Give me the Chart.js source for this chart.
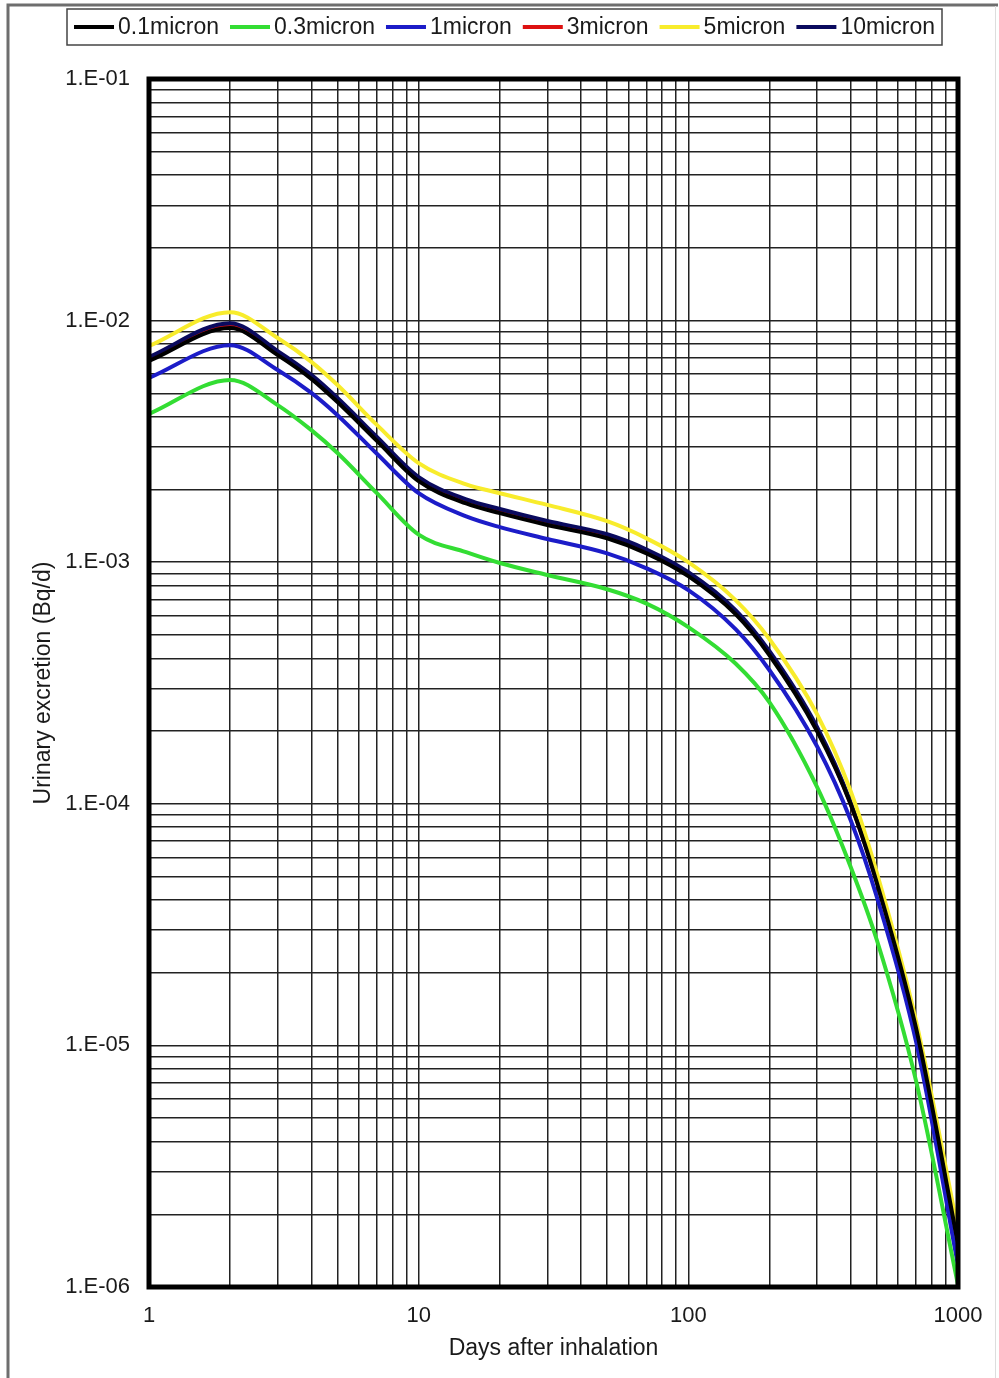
<!DOCTYPE html>
<html>
<head>
<meta charset="utf-8">
<script src="https://cdn.jsdelivr.net/npm/chart.js@4/dist/chart.umd.min.js"></script>
<style>
  html, body { margin: 0; padding: 0; background: #fff; }
  #wrap { width: 999px; height: 1378px; }
</style>
</head>
<body>
<div id="wrap"><canvas id="myChart" width="999" height="1378"></canvas></div>
<script>
// days after inhalation where the curves were read
const days = [1, 2, 3, 4, 5, 7, 10, 15, 20, 30, 50, 70, 100, 150, 200, 300, 400, 500, 700, 1000];

// urinary excretion (Bq/d) per particle size
const micron01 = [6.81e-3, 9.31e-3, 7.20e-3, 5.74e-3, 4.60e-3, 3.18e-3, 2.165e-3, 1.75e-3, 1.596e-3, 1.426e-3, 1.256e-3, 1.088e-3, 8.75e-4, 6.08e-4, 4.12e-4, 2.00e-4, 9.96e-5, 4.71e-5, 1.17e-5, 1.51e-6];
const micron03 = [4.11e-3, 5.68e-3, 4.47e-3, 3.52e-3, 2.83e-3, 1.93e-3, 1.30e-3, 1.10e-3, 9.92e-4, 8.85e-4, 7.73e-4, 6.74e-4, 5.39e-4, 3.80e-4, 2.63e-4, 1.175e-4, 5.48e-5, 2.73e-5, 7.08e-6, 1.02e-6];
const micron1 = [5.79e-3, 7.91e-3, 6.25e-3, 5.02e-3, 4.06e-3, 2.81e-3, 1.93e-3, 1.547e-3, 1.397e-3, 1.248e-3, 1.088e-3, 9.43e-4, 7.66e-4, 5.27e-4, 3.57e-4, 1.73e-4, 8.55e-5, 4.12e-5, 1.03e-5, 1.23e-6];
const micron3 = [6.94e-3, 9.57e-3, 7.34e-3, 5.85e-3, 4.69e-3, 3.24e-3, 2.21e-3, 1.785e-3, 1.63e-3, 1.455e-3, 1.28e-3, 1.11e-3, 8.92e-4, 6.20e-4, 4.20e-4, 2.04e-4, 1.00e-4, 4.75e-5, 1.18e-5, 1.62e-6];
const micron5 = [7.85e-3, 1.084e-2, 8.47e-3, 6.75e-3, 5.41e-3, 3.70e-3, 2.57e-3, 2.10e-3, 1.93e-3, 1.726e-3, 1.478e-3, 1.255e-3, 1.00e-3, 6.95e-4, 4.80e-4, 2.35e-4, 1.127e-4, 5.18e-5, 1.25e-5, 1.72e-6];
const micron10 = [7.07e-3, 9.76e-3, 7.48e-3, 5.96e-3, 4.78e-3, 3.30e-3, 2.25e-3, 1.82e-3, 1.66e-3, 1.48e-3, 1.305e-3, 1.129e-3, 9.09e-4, 6.32e-4, 4.28e-4, 2.08e-4, 1.015e-4, 4.80e-5, 1.19e-5, 1.51e-6];

const seriesNames = ['0.1micron', '0.3micron', '1micron', '3micron', '5micron', '10micron'];
const seriesColors = ['#000000', '#33dd33', '#1c1cc8', '#dd1111', '#f8ec2c', '#0a0a5e'];

// grid lines and tick labels
const xGrid = [1, 2, 3, 4, 5, 6, 7, 8, 9, 10, 20, 30, 40, 50, 60, 70, 80, 90, 100, 200, 300, 400, 500, 600, 700, 800, 900, 1000];
const xDecades = [1, 10, 100, 1000];
const xTickLabels = ['1', '10', '100', '1000'];
const yDecades = [1e-6, 1e-5, 1e-4, 1e-3, 1e-2, 1e-1];
const yTickLabels = ['1.E-06', '1.E-05', '1.E-04', '1.E-03', '1.E-02', '1.E-01'];
const ySignificands = [1, 2, 3, 4, 5, 6, 7, 8, 9];

const FONT = "'Liberation Sans', Arial, sans-serif";

function toPoints(values) {
    return values.map((v, i) => ({ x: days[i], y: v }));
}

function yGridValues() {
    const out = [];
    yDecades.forEach((d, i) => {
        if (i === yDecades.length - 1) { out.push(d); return; }
        ySignificands.forEach(s => out.push(s * d));
    });
    return out;
}

const allSeries = [micron01, micron03, micron1, micron3, micron5, micron10];
const datasets = allSeries.map((vals, i) => ({
    label: seriesNames[i],
    data: toPoints(vals),
    borderColor: seriesColors[i],
    backgroundColor: seriesColors[i],
    borderWidth: 4,
    pointRadius: 0,
    cubicInterpolationMode: 'monotone',
    order: i === 3 ? 10 : 0   // 3 micron sits under the 10 micron curve
}));

// page frame, plot border and the boxed legend
const framePlugin = {
    id: 'frame',
    beforeDraw(chart) {
        const ctx = chart.ctx;
        ctx.save();
        ctx.fillStyle = '#fff';
        ctx.fillRect(0, 0, chart.width, chart.height);
        ctx.strokeStyle = '#6e6e6e';
        ctx.lineWidth = 3;
        ctx.beginPath();
        ctx.moveTo(8, 1378);
        ctx.lineTo(8, 5);
        ctx.lineTo(998, 5);
        ctx.stroke();
        ctx.strokeStyle = '#dddddd';
        ctx.lineWidth = 1;
        ctx.beginPath();
        ctx.moveTo(995.5, 6);
        ctx.lineTo(995.5, 1378);
        ctx.stroke();
        ctx.restore();
    },
    afterDraw(chart) {
        const ctx = chart.ctx;
        const a = chart.chartArea;
        ctx.save();
        ctx.strokeStyle = '#000';
        ctx.lineWidth = 5;
        ctx.strokeRect(a.left, a.top, a.right - a.left, a.bottom - a.top);

        // legend
        ctx.font = '23px ' + FONT;
        const lineLen = 40, textGap = 4, itemGap = 11;
        const widths = chart.data.datasets.map(ds => ctx.measureText(ds.label).width);
        let total = 0;
        widths.forEach(w => { total += lineLen + textGap + w; });
        total += itemGap * (widths.length - 1);
        const boxL = 67, boxR = 942, boxT = 9, boxB = 45;
        ctx.fillStyle = '#fff';
        ctx.fillRect(boxL, boxT, boxR - boxL, boxB - boxT);
        ctx.strokeStyle = '#444';
        ctx.lineWidth = 1.5;
        ctx.strokeRect(boxL, boxT, boxR - boxL, boxB - boxT);
        let x = (boxL + boxR) / 2 - total / 2;
        const cy = 27;
        ctx.textBaseline = 'middle';
        ctx.textAlign = 'left';
        chart.data.datasets.forEach((ds, i) => {
            ctx.strokeStyle = ds.borderColor;
            ctx.lineWidth = 4;
            ctx.beginPath();
            ctx.moveTo(x, cy);
            ctx.lineTo(x + lineLen, cy);
            ctx.stroke();
            x += lineLen + textGap;
            ctx.fillStyle = '#1a1a1a';
            ctx.fillText(ds.label, x, cy + 1);
            x += widths[i] + itemGap;
        });
        ctx.restore();
    }
};

const ctx = document.getElementById('myChart').getContext('2d');
const myChart = new Chart(ctx, {
    type: 'line',
    data: { datasets: datasets },
    options: {
        responsive: false,
        animation: false,
        layout: { padding: { top: 79, right: 41, left: 0, bottom: 0 } },
        plugins: {
            legend: { display: false },
            tooltip: { enabled: false }
        },
        scales: {
            x: {
                type: 'logarithmic',
                min: 1,
                max: 1000,
                afterFit: s => { s.height = 91; },
                afterBuildTicks: s => { s.ticks = xGrid.map(v => ({ value: v })); },
                grid: { color: '#222', lineWidth: 1.5, drawTicks: false },
                border: { display: false },
                ticks: {
                    autoSkip: false,
                    maxRotation: 0,
                    padding: 16,
                    color: '#1a1a1a',
                    font: { family: FONT, size: 22 },
                    callback: v => {
                        const i = xDecades.indexOf(v);
                        return i >= 0 ? xTickLabels[i] : '';
                    }
                },
                title: {
                    display: true,
                    text: 'Days after inhalation',
                    color: '#1a1a1a',
                    font: { family: FONT, size: 23 },
                    padding: { top: 0, bottom: 16 }
                }
            },
            y: {
                type: 'logarithmic',
                min: 1e-6,
                max: 1e-1,
                afterFit: s => { s.width = 149; },
                afterBuildTicks: s => { s.ticks = yGridValues().map(v => ({ value: v })); },
                grid: { color: '#222', lineWidth: 1.5, drawTicks: false },
                border: { display: false },
                ticks: {
                    autoSkip: false,
                    padding: 19,
                    color: '#1a1a1a',
                    font: { family: FONT, size: 22 },
                    callback: v => {
                        const i = yDecades.findIndex(d => Math.abs(v / d - 1) < 1e-6);
                        return i >= 0 ? yTickLabels[i] : '';
                    }
                },
                title: {
                    display: true,
                    text: 'Urinary excretion (Bq/d)',
                    color: '#1a1a1a',
                    font: { family: FONT, size: 23 },
                    padding: { top: 30, bottom: 0 }
                }
            }
        }
    },
    plugins: [framePlugin]
});
</script>
</body>
</html>
